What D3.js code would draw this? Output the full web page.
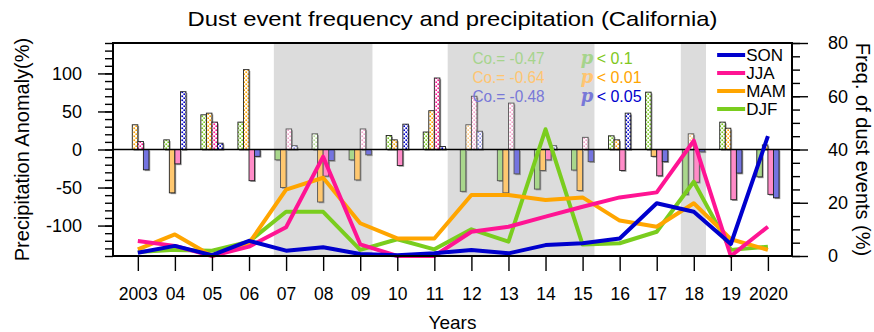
<!DOCTYPE html>
<html>
<head>
<meta charset="utf-8">
<script src="https://cdn.jsdelivr.net/npm/d3@7"></script>
<style>
  body { margin: 0; background: #fff; }
  svg { font-family: "Liberation Sans", Arial, sans-serif; }
</style>
</head>
<body>
<div id="chart"></div>
<script>
// ---- data ----
const years = [2003, 2004, 2005, 2006, 2007, 2008, 2009, 2010, 2011, 2012, 2013, 2014, 2015, 2016, 2017, 2018, 2019, 2020];
const yearLabels = ["2003", "04", "05", "06", "07", "08", "09", "10", "11", "12", "13", "14", "15", "16", "17", "18", "19", "2020"];

// precipitation anomaly (%), left axis
const precipDJF = [0, 12.7, 45.6, 36, -13.6, 20.6, -13.6, 18.4, 23, -55, -41, -52, -27, 18, 75.4, -59, 36, -36];
const precipMAM = [32.5, -57, 47.8, 105, -50, -69, -40, 12.7, 51, 32.5, -57, -27.6, -54, 12.7, -9, 20.6, 28, 6];
const precipJJA = [10.5, -18.9, 36, -41, 27, -35, 27, -21, 94, 70, 61, -13.6, 16, -27.6, -34.6, -43, -66, -59];
const precipSON = [-26.7, 76, 8.3, -9, 5, -14.5, -7, 33.3, 4, 24, -32, 5, -16, 47.8, -16, -3, -31, -63.5];

// dust event frequency (%), right axis
const dustDJF = [1.5, 2.3, 2, 5.4, 16.6, 16.6, 2.3, 6.3, 2.5, 10, 5.4, 47.6, 4.3, 4.8, 9.1, 27.9, 2.3, 3.5];
const dustMAM = [2.5, 8.1, 0, 4.8, 24.9, 29.4, 12.3, 6.6, 6.6, 22.9, 22.9, 21, 22, 13.3, 11, 19.8, 6.3, 2.3];
const dustJJA = [5.6, 3.8, 0, 3.5, 10.8, 37.3, 4.4, 0, 0, 9.1, 11, 14.8, 18.5, 22, 23.9, 43.3, 0, 11];
const dustSON = [1.2, 3.8, 0.3, 5.7, 2.0, 3.3, 0.75, 0.3, 1.0, 2.25, 1.0, 4.1, 4.8, 6.6, 19.8, 16.6, 4.5, 45];

// grey periods
const shadeFrom = [2006.67, 2011.36, 2017.65];
const shadeTo = [2009.33, 2015.32, 2018.33];

const seasons = ["DJF", "MAM", "JJA", "SON"];
const legendOrder = ["SON", "JJA", "MAM", "DJF"];
const coTexts = ["Co.= -0.47", "Co.= -0.64", "Co.= -0.48"];
const pTexts = ["< 0.1", "< 0.01", "< 0.05"];

const leftTicks = [-100, -50, 0, 50, 100];
const rightTicks = [0, 20, 40, 60, 80];

// ---- styles ----
const lineColor = { DJF: "#7acd1e", MAM: "#ffa500", JJA: "#ff1493", SON: "#0000cd" };
const paleColor = { DJF: "#a9d78c", MAM: "#ffc870", JJA: "#ff8cc8", SON: "#7474e0" };
const dotPale = { DJF: "#b4dc94", MAM: "#ffcb80", JJA: "#f2a2cb", SON: "#8c8ce6" };
const coColor = ["#a6d48c", "#ffc571", "#7878d8"];
const pColor = ["#80c820", "#ffa500", "#0000cd"];

const precip = { DJF: precipDJF, MAM: precipMAM, JJA: precipJJA, SON: precipSON };
const dust = { DJF: dustDJF, MAM: dustMAM, JJA: dustJJA, SON: dustSON };

const W = 874, H = 332;
const margin = { top: 43, right: 82, bottom: 76, left: 113 };
const width = W - margin.left - margin.right;
const height = H - margin.top - margin.bottom;

const svg = d3.select("#chart").append("svg")
  .attr("width", W)
  .attr("height", H);

// dotted fill patterns for positive bars
const defs = svg.append("defs");
seasons.forEach(s => {
  [["bright", lineColor[s]], ["pale", dotPale[s]]].forEach(([kind, col]) => {
    const p = defs.append("pattern")
      .attr("id", "dots-" + s + "-" + kind)
      .attr("patternUnits", "userSpaceOnUse")
      .attr("width", 4).attr("height", 4);
    p.append("rect").attr("width", 4).attr("height", 4).attr("fill", "#fff");
    p.append("rect").attr("x", 0.4).attr("y", 0.4).attr("width", 1.7).attr("height", 1.7).attr("fill", col);
    p.append("rect").attr("x", 2.4).attr("y", 2.4).attr("width", 1.7).attr("height", 1.7).attr("fill", col);
  });
});

const g = svg.append("g")
  .attr("transform", "translate(" + margin.left + "," + margin.top + ")");

const x = d3.scaleLinear().domain([2002.33, 2020.65]).range([0, width]);
const yL = d3.scaleLinear().domain([-140, 140]).range([height, 0]);
const yR = d3.scaleLinear().domain([0, 80]).range([height, 0]);

// grey shading
g.selectAll("rect.shade")
  .data(shadeFrom)
  .enter().append("rect")
  .attr("class", "shade")
  .attr("x", d => x(d))
  .attr("y", 0)
  .attr("width", (d, i) => x(shadeTo[i]) - x(d))
  .attr("height", height)
  .attr("fill", "#dcdcdc");

const inShade = yr => shadeFrom.some((a, i) => yr >= a && yr <= shadeTo[i]);

// bars
const barW = x(2003.15) - x(2003);
seasons.forEach((s, si) => {
  const off = -0.3 + 0.15 * si;
  const bars = g.append("g");
  const data = years.map((yr, i) => ({ yr: yr, v: precip[s][i] })).filter(d => d.v !== 0);
  // shadow
  bars.selectAll("rect.shadow")
    .data(data)
    .enter().append("rect")
    .attr("x", d => x(d.yr + off) + 1.3)
    .attr("y", d => yL(Math.max(d.v, 0)) + 1.3)
    .attr("width", barW)
    .attr("height", d => Math.abs(yL(d.v) - yL(0)))
    .attr("fill", "#9a9a9a");
  bars.selectAll("rect.bar")
    .data(data)
    .enter().append("rect")
    .attr("x", d => x(d.yr + off))
    .attr("y", d => yL(Math.max(d.v, 0)))
    .attr("width", barW)
    .attr("height", d => Math.abs(yL(d.v) - yL(0)))
    .attr("fill", d => d.v > 0
      ? "url(#dots-" + s + "-" + (inShade(d.yr) ? "pale" : "bright") + ")"
      : paleColor[s])
    .attr("stroke", d => inShade(d.yr) ? "#555" : "#222")
    .attr("stroke-width", 0.9);
});

// zero line
g.append("line")
  .attr("x1", 0).attr("x2", width)
  .attr("y1", yL(0)).attr("y2", yL(0))
  .attr("stroke", "#000").attr("stroke-width", 1.6);

// dust frequency lines
const line = d3.line()
  .x((d, i) => x(years[i]))
  .y(d => yR(d));
seasons.forEach(s => {
  g.append("path")
    .datum(dust[s])
    .attr("fill", "none")
    .attr("stroke", lineColor[s])
    .attr("stroke-width", 4)
    .attr("stroke-linejoin", "round")
    .attr("d", line);
});

// axes
const tickStyle = sel => {
  sel.select(".domain").remove();
  sel.selectAll("line").attr("stroke", "#000").attr("stroke-width", 1.4);
  sel.selectAll("text").attr("fill", "#000").attr("font-family", "Liberation Sans, Arial, sans-serif");
};

g.append("g")
  .call(d3.axisLeft(yL).tickValues(d3.range(-140, 141, 10)).tickSize(8).tickFormat(""))
  .call(tickStyle);
g.append("g")
  .call(d3.axisLeft(yL).tickValues(leftTicks).tickSize(15).tickPadding(16).tickFormat(d => String(d)))
  .call(tickStyle)
  .selectAll("text").attr("font-size", 18);

g.append("g")
  .attr("transform", "translate(" + width + ",0)")
  .call(d3.axisRight(yR).tickValues(d3.range(0, 81, 5)).tickSize(8).tickFormat(""))
  .call(tickStyle);
g.append("g")
  .attr("transform", "translate(" + width + ",0)")
  .call(d3.axisRight(yR).tickValues(rightTicks).tickSize(16).tickPadding(20).tickFormat(d => String(d)))
  .call(tickStyle)
  .selectAll("text").attr("font-size", 18);

g.append("g")
  .attr("transform", "translate(0," + height + ")")
  .call(d3.axisBottom(x).tickValues(years).tickSize(15).tickPadding(17).tickFormat((d, i) => yearLabels[i]))
  .call(tickStyle)
  .selectAll("text").attr("font-size", 17.5);

// frame
g.append("rect")
  .attr("width", width).attr("height", height)
  .attr("fill", "none").attr("stroke", "#000").attr("stroke-width", 2);

// correlation notes
const notes = g.append("g");
coTexts.forEach((t, i) => {
  const yy = 15 + i * 19;
  notes.append("text")
    .attr("x", x(2012.03)).attr("y", yy)
    .attr("dy", "0.35em")
    .attr("font-size", 16)
    .attr("textLength", 72)
    .attr("lengthAdjust", "spacingAndGlyphs")
    .attr("fill", coColor[i])
    .text(t);
  notes.append("text")
    .attr("x", x(2014.95)).attr("y", yy)
    .attr("dy", "0.32em")
    .attr("font-size", 18)
    .attr("font-family", "DejaVu Serif, serif")
    .attr("font-weight", "bold")
    .attr("font-style", "italic")
    .attr("fill", coColor[i])
    .text("p");
  notes.append("text")
    .attr("x", x(2015.38)).attr("y", yy)
    .attr("dy", "0.35em")
    .attr("font-size", 16)
    .attr("fill", pColor[i])
    .text(pTexts[i]);
});

// legend
const legend = g.append("g").attr("transform", "translate(" + x(2018.63) + ",12)");
legendOrder.forEach((s, i) => {
  legend.append("line")
    .attr("x1", 0).attr("x2", 28)
    .attr("y1", i * 18).attr("y2", i * 18)
    .attr("stroke", lineColor[s]).attr("stroke-width", 4);
  legend.append("text")
    .attr("x", 29).attr("y", i * 18)
    .attr("dy", "0.36em")
    .attr("font-size", 17)
    .text(s);
});

// titles
svg.append("text")
  .attr("x", margin.left + width / 2).attr("y", 26)
  .attr("text-anchor", "middle")
  .attr("font-size", 21)
  .attr("textLength", 530)
  .attr("lengthAdjust", "spacingAndGlyphs")
  .text("Dust event frequency and precipitation (California)");

svg.append("text")
  .attr("transform", "translate(29," + (margin.top + height / 2) + ") rotate(-90)")
  .attr("text-anchor", "middle")
  .attr("font-size", 20)
  .text("Precipitation Anomaly(%)");

svg.append("text")
  .attr("transform", "translate(856," + (margin.top + height / 2) + ") rotate(90)")
  .attr("text-anchor", "middle")
  .attr("font-size", 20)
  .text("Freq. of dust events (%)");

svg.append("text")
  .attr("x", margin.left + width / 2).attr("y", 329)
  .attr("text-anchor", "middle")
  .attr("font-size", 19)
  .text("Years");
</script>
</body>
</html>
